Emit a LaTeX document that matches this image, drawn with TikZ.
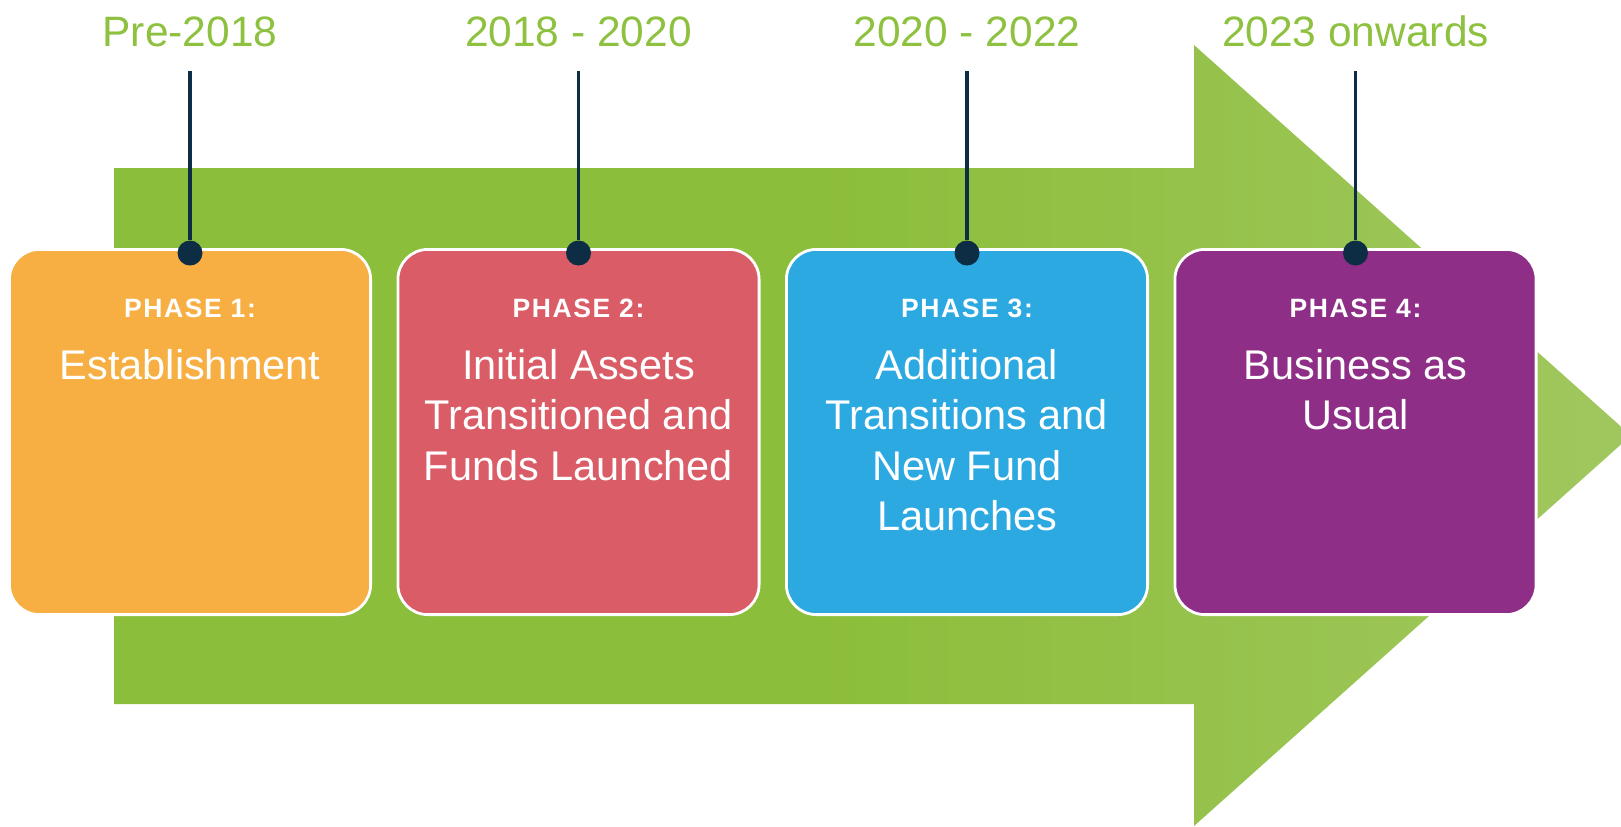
\documentclass[tikz,border=0pt]{standalone}
\usepackage{fontspec}
\setmainfont{Liberation Sans}
\newfontfamily\phasefont[LetterSpace=6]{Liberation Sans}

\definecolor{arrowA}{RGB}{139,190,58}
\definecolor{arrowB}{RGB}{158,198,90}
\definecolor{arrowC}{RGB}{184,210,142}
\definecolor{yeargreen}{RGB}{141,193,63}
\definecolor{navy}{RGB}{13,45,69}
\definecolor{phaseorange}{RGB}{247,175,68}
\definecolor{phasered}{RGB}{218,92,102}
\definecolor{phaseblue}{RGB}{45,169,225}
\definecolor{phasepurple}{RGB}{142,46,135}

% solid green on the shaft, fading lighter towards the tip
\pgfdeclarehorizontalshading{arrowshade}{100bp}{%
  color(0bp)=(arrowA); color(48bp)=(arrowA); color(72bp)=(arrowB); color(100bp)=(arrowC)}

\begin{document}
\begin{tikzpicture}[x=0.5pt,y=-0.5pt,
  phasebox/.style={rectangle, rounded corners=15pt, draw=white, line width=1.4pt,
    minimum width=180.6pt, minimum height=182.6pt, inner sep=0pt},
  yearlabel/.style={anchor=base, text=yeargreen, inner sep=0pt,
    font=\fontsize{21.25}{25}\selectfont},
  phasetag/.style={anchor=base, text=white, inner sep=0pt,
    font=\phasefont\bfseries\fontsize{13.25}{16}\selectfont},
  phasetext/.style={anchor=base, text=white, align=center, inner sep=0pt,
    font=\fontsize{20.75}{25.25}\selectfont},
  stem/.style={draw=navy, line width=1.9pt},
  knot/.style={circle, fill=navy, inner sep=0pt, minimum size=12.5pt}]

\useasboundingbox (0,0) rectangle (1621,826);

% big timeline arrow
\begin{scope}
  \clip (0,0) rectangle (1621,826);
  \shade[shading=arrowshade] (114,168) -- (1194,168) -- (1194,45) -- (1631,435.5)
    -- (1194,826) -- (1194,704) -- (114,704) -- cycle;
\end{scope}

% phase boxes
\node[phasebox, fill=phaseorange] (p1) at (190,432) {};
\node[phasebox, fill=phasered]    (p2) at (578.5,432) {};
\node[phasebox, fill=phaseblue]   (p3) at (967,432) {};
\node[phasebox, fill=phasepurple] (p4) at (1355.5,432) {};

% year labels
\node[yearlabel] (y1) at (190,46) {Pre-2018};
\node[yearlabel] (y2) at (578.5,46) {2018 - 2020};
\node[yearlabel] (y3) at (967,46) {2020 - 2022};
\node[yearlabel] (y4) at (1355.5,46) {2023 onwards};

% stems with knots on the boxes
\coordinate (s1) at (190,71);
\coordinate (s2) at (578.5,71);
\coordinate (s3) at (967,71);
\coordinate (s4) at (1355.5,71);
\node[knot] (d1) at (190,253) {};
\node[knot] (d2) at (578.5,253) {};
\node[knot] (d3) at (967,253) {};
\node[knot] (d4) at (1355.5,253) {};
\draw[stem] (s1) -- (d1);
\draw[stem] (s2) -- (d2);
\draw[stem] (s3) -- (d3);
\draw[stem] (s4) -- (d4);

% box texts (base anchor sits on the last line)
\node[phasetag] (t1) at (190,317) {PHASE 1:};
\node[phasetag] (t2) at (578.5,317) {PHASE 2:};
\node[phasetag] (t3) at (967,317) {PHASE 3:};
\node[phasetag] (t4) at (1355.5,317) {PHASE 4:};

\node[phasetext] (m1) at (190,379) {Establishment};
\node[phasetext] (m2) at (578.5,480) {Initial Assets\\Transitioned and\\Funds Launched};
\node[phasetext] (m3) at (967,530.5) {Additional\\Transitions and\\New Fund\\Launches};
\node[phasetext] (m4) at (1355.5,429.5) {Business as\\Usual};
\end{tikzpicture}
\end{document}
